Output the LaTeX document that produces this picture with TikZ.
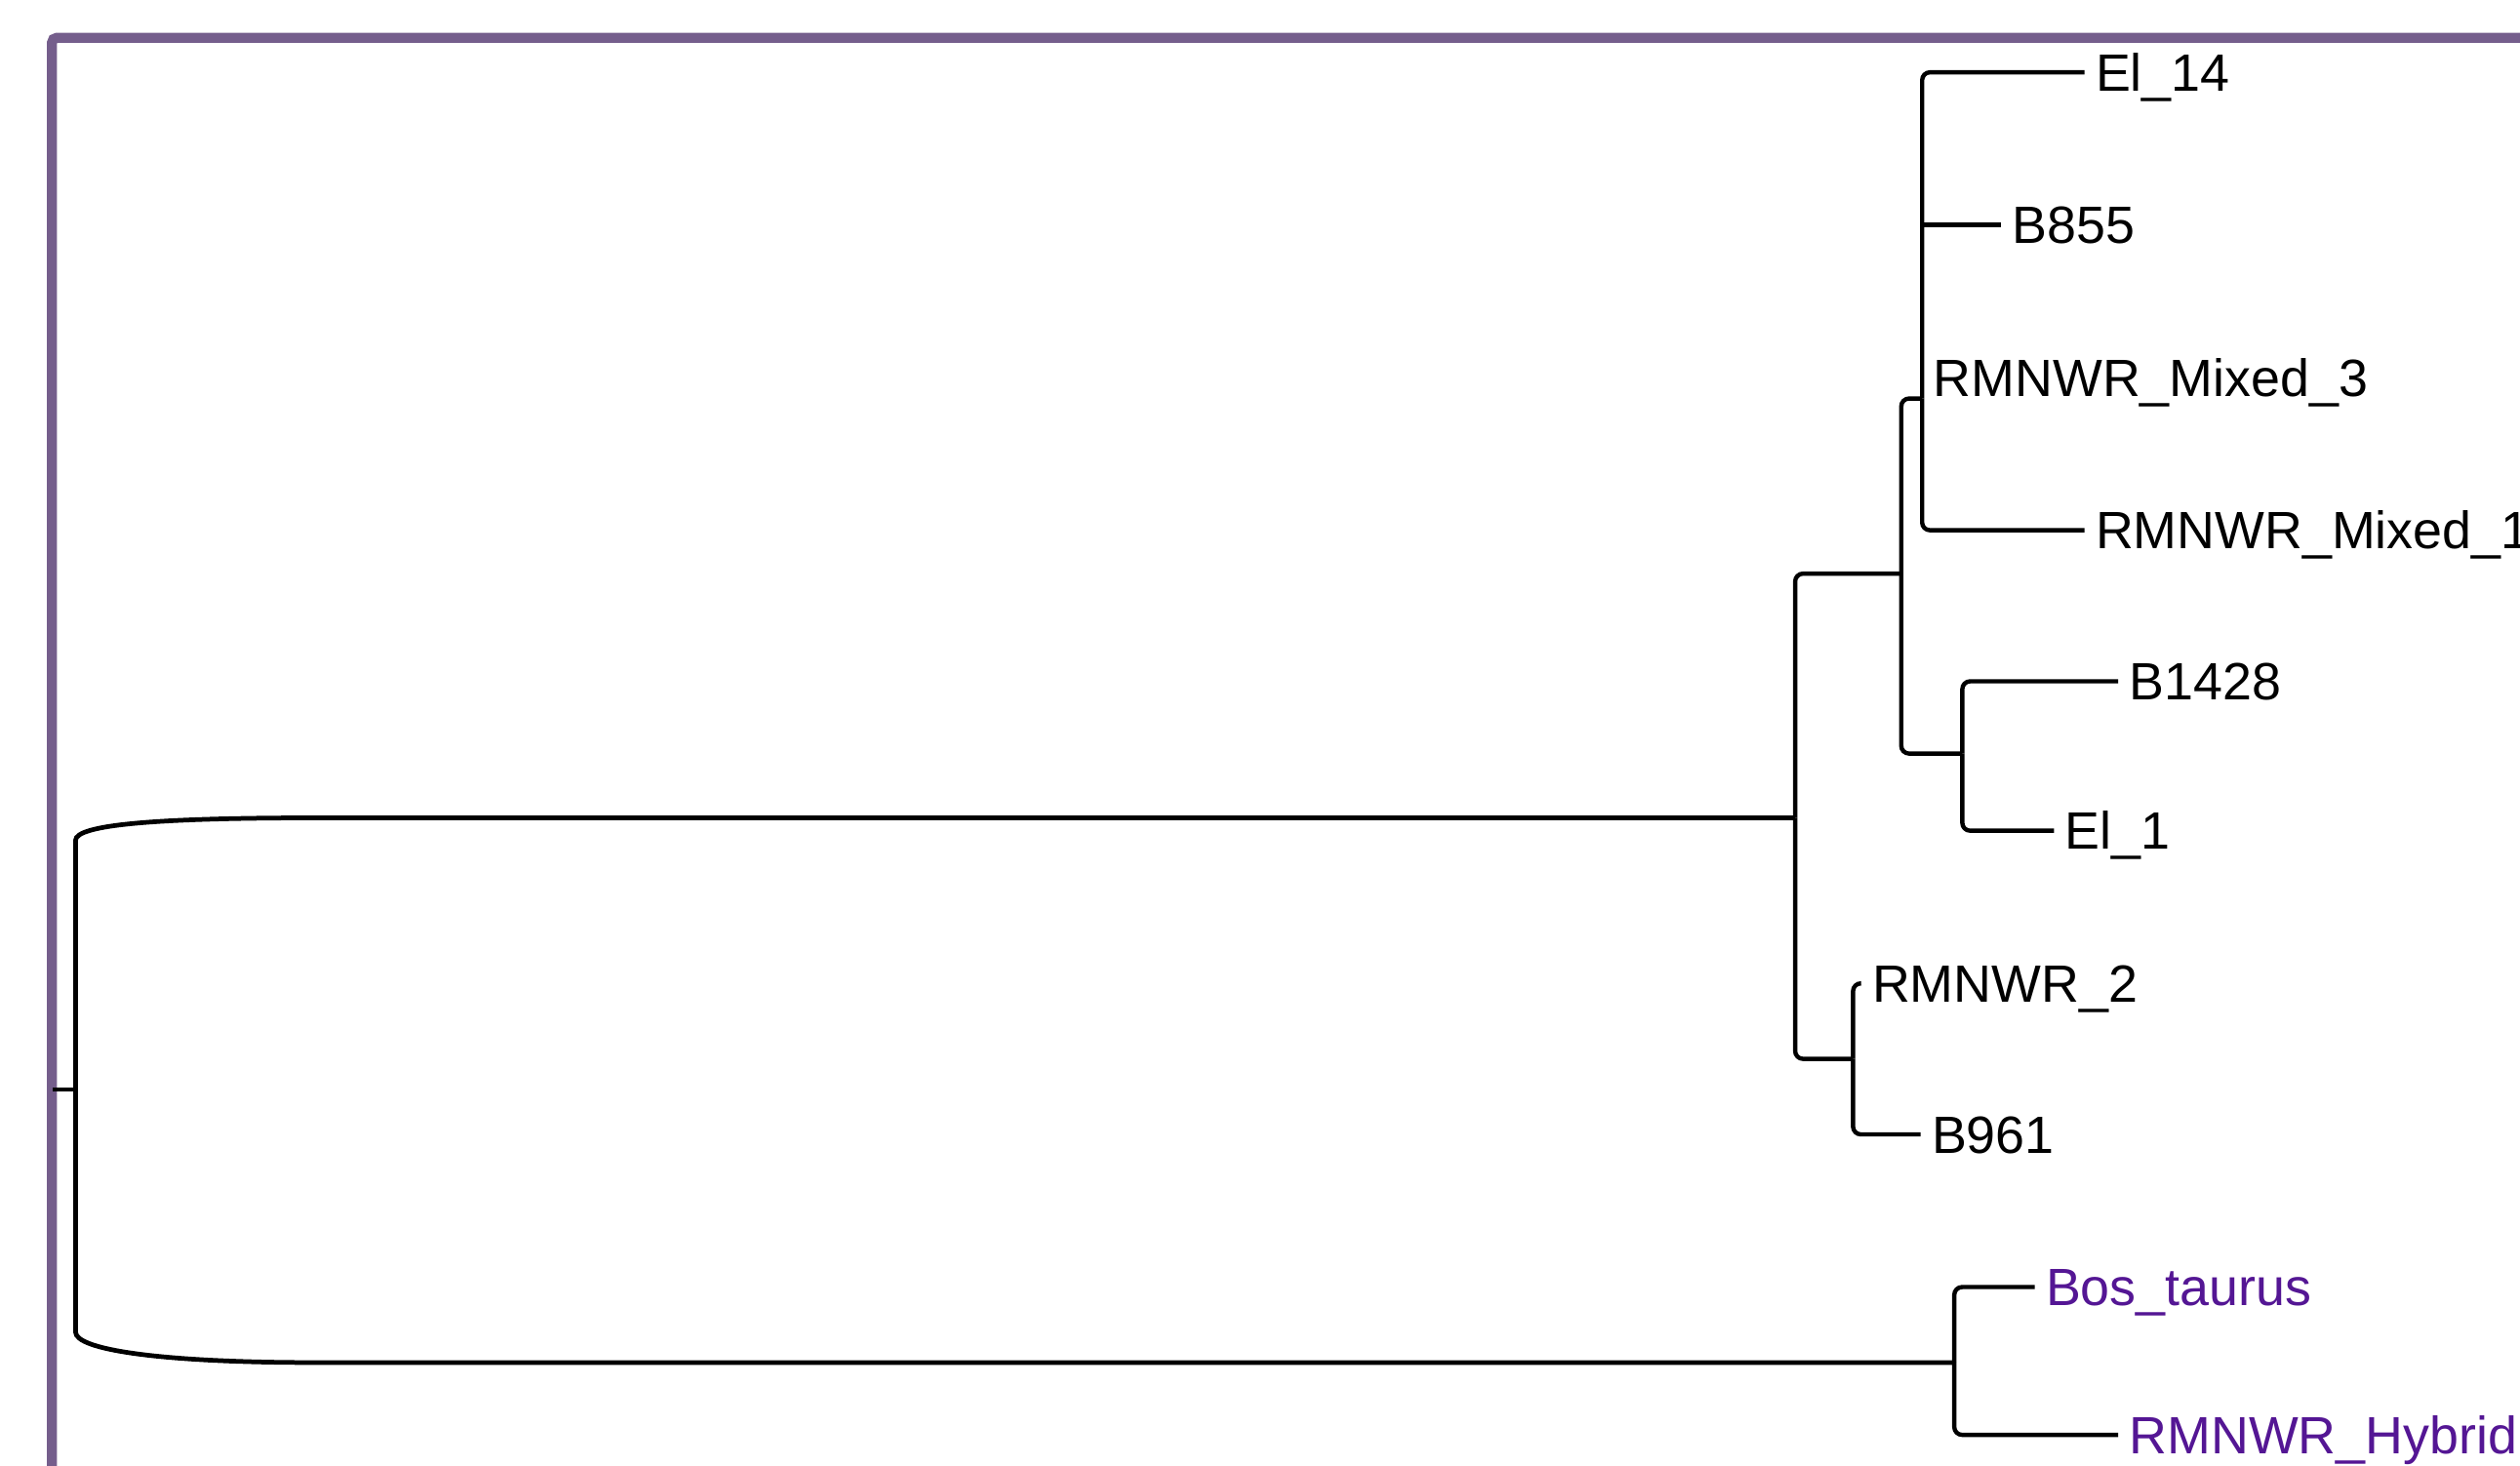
\documentclass[tikz,border=0pt]{standalone}
\usepackage{fontspec}
\setmainfont{Liberation Sans}
\definecolor{framec}{RGB}{117,94,140}
\definecolor{outc}{RGB}{84,22,148}
\begin{document}
\begin{tikzpicture}[x=0.01647cm,y=-0.01647cm,
  branch/.style={line width=1.25pt,black,rounded corners=0.08cm},
  rootline/.style={line width=1.35pt,black},
  leaf/.style={anchor=west,inner xsep=0.115cm,inner ysep=0pt,outer sep=0pt,
    font=\fontsize{15.3pt}{16pt}\selectfont,text height=10.95pt,text depth=0pt},
  outleaf/.style={leaf,text=outc}]
\useasboundingbox (0,0) rectangle (1568,912);
\clip (0,0) rectangle (1568,912);
\draw[framec,line width=2.9pt,rounded corners=0.05cm] (32.3,23.5) rectangle (1620,960);
% internal coordinates
\coordinate (r0) at (33,678);
\coordinate (r) at (47,678);
\coordinate (rt) at (47,523);
\coordinate (rtc) at (196,509);
\coordinate (rb) at (47,829);
\coordinate (rbc) at (196,848);
\coordinate (A) at (1117,509);
\coordinate (B) at (1216,848);
\coordinate (A1) at (1183,357);
\coordinate (A2) at (1153,659);
\coordinate (A1a) at (1196,248);
\coordinate (A1b) at (1221,469);
% leaves
\node[leaf] (el14) at (1297,45) {El\_14};
\node[leaf] (b855) at (1245,140) {B855};
\node[leaf] (mx3) at (1196,235) {RMNWR\_Mixed\_3};
\node[leaf] (mx1) at (1297,330) {RMNWR\_Mixed\_1};
\node[leaf] (b1428) at (1318,424) {B1428};
\node[leaf] (el1) at (1278,517) {El\_1};
\node[leaf] (r2) at (1158,612) {RMNWR\_2};
\node[leaf] (b961) at (1195,706) {B961};
\node[outleaf] (bos) at (1266,801) {Bos\_taurus};
\node[outleaf] (hyb) at (1318,893) {RMNWR\_Hybrid};
% root
\draw[rootline] (r0) -- (r);
\draw[rootline] (r) -- (rt) .. controls (47,513) and (100,509) .. (rtc) -- (A);
\draw[rootline] (r) -- (rb) .. controls (47,840) and (100,848) .. (rbc) -- (B);
% clade A
\draw[branch] (A) |- (A1);
\draw[branch] (A) |- (A2);
\draw[branch] (A1) |- (A1a);
\draw[branch] (A1) |- (A1b);
\draw[branch] (A1a) |- (el14.west);
\draw[branch] (A1a) |- (mx1.west);
\draw[branch] (A1a |- b855.west) -- (b855.west);
\draw[branch] (A1b) |- (b1428.west);
\draw[branch] (A1b) |- (el1.west);
\draw[branch] (A2) |- (r2.west);
\draw[branch] (A2) |- (b961.west);
% clade B
\draw[branch] (B) |- (bos.west);
\draw[branch] (B) |- (hyb.west);
\end{tikzpicture}
\end{document}
